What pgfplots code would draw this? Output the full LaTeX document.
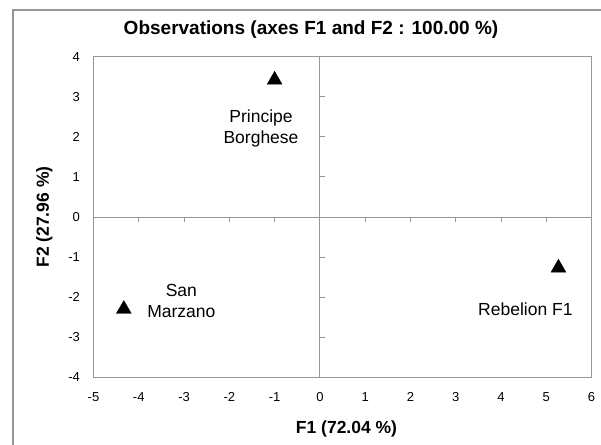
\documentclass[border=0pt]{standalone}
\usepackage{pgfplots}
\pgfplotsset{compat=1.18}
\usepackage{fontspec}
\setmainfont{Liberation Sans}
\definecolor{boxgray}{RGB}{150,150,150}
\begin{document}
\begin{tikzpicture}
\begin{axis}[
  scale only axis, width=498pt, height=320.6pt,
  xmin=-5, xmax=6, ymin=-4, ymax=4,
  xtick={-5,...,6}, ytick={-4,...,4},
  axis line style={boxgray, line width=0.9pt},
  major tick length=0pt,
  tick label style={font=\fontsize{13}{15}\selectfont},
  /pgf/number format/assume math mode=true,
  xticklabel style={yshift=-12pt},
  yticklabel style={xshift=-10pt},
  xlabel={\textbf{F1 (72.04 \%)}},
  ylabel={\textbf{F2 (27.96 \%)}},
  label style={font=\fontsize{17.5}{20}\selectfont},
  xlabel style={yshift=-12pt, xshift=4pt},
  ylabel style={yshift=9pt},
  clip=false,
]
\coordinate (BL) at (axis cs:-5,-4);
\draw[boxgray, line width=0.9pt] (axis cs:-5,0) -- (axis cs:6,0);
\draw[boxgray, line width=0.9pt] (axis cs:0,-4) -- (axis cs:0,4);
\pgfplotsinvokeforeach{-4,-3,-2,-1,1,2,3,4,5}{
  \draw[boxgray, line width=0.9pt] (axis cs:#1,0) -- ([yshift=-5pt]axis cs:#1,0);
}
\pgfplotsinvokeforeach{-3,-2,-1,1,2,3}{
  \draw[boxgray, line width=0.9pt] (axis cs:0,#1) -- ([xshift=5pt]axis cs:0,#1);
}
\addplot[only marks, mark=triangle*, mark size=8.6pt, black] coordinates {
  (-1.00, 3.42)
  (-4.33, -2.30)
  (5.27, -1.27)
};
\node[font=\fontsize{17.5}{21}\selectfont, align=center] at (axis cs:-1.30,2.22) {Principe\\Borghese};
\node[font=\fontsize{17.5}{21}\selectfont, align=center] at (axis cs:-3.06,-2.10) {San\\Marzano};
\node[font=\fontsize{17.5}{21}\selectfont] at (axis cs:4.54,-2.31) {Rebelion F1};
\end{axis}
\begin{scope}[shift={([shift={(-93.5pt,-66.7pt)}]BL)}, x=1pt, y=1pt]
\path[use as bounding box] (0,0) rectangle (601,444);
\draw[boxgray,line width=1.2pt] (13,-5) -- (13,434) -- (606,434);
\node[font=\fontsize{19}{22}\selectfont\bfseries] at (311,414) {Observations (axes F1 and F2 : 100.00 \%)};
\end{scope}
\end{tikzpicture}
\end{document}
